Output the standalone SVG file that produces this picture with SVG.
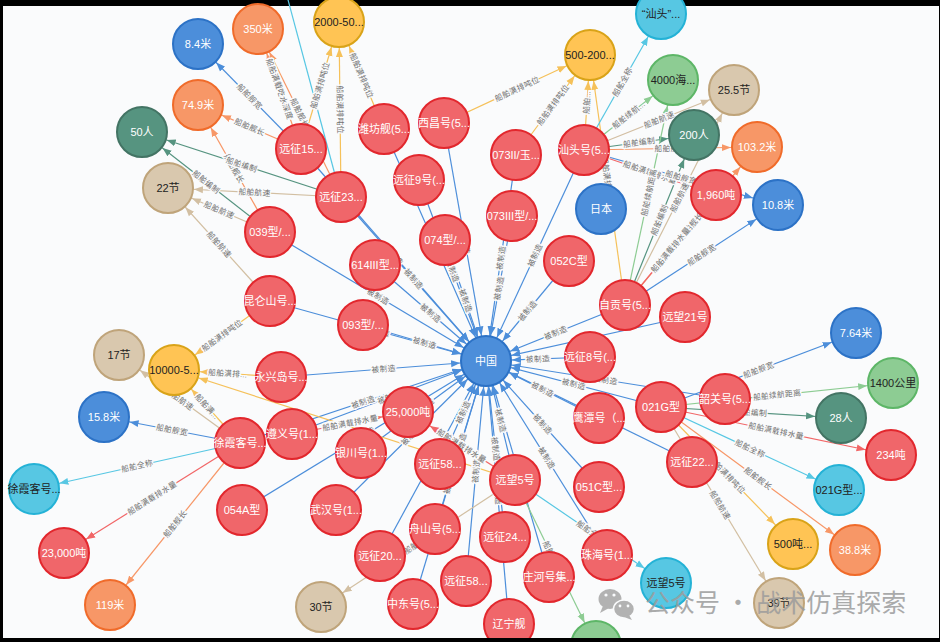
<svg xmlns="http://www.w3.org/2000/svg" width="940" height="642" viewBox="0 0 940 642">
<style>
.e{fill:none;stroke-width:1.2}
.cb{stroke:#4C8EDA}.co{stroke:#F79767}.cy{stroke:#F5C15A}.cg{stroke:#569480}.ct{stroke:#D2BFA2}.cc{stroke:#57C7E3}.cl{stroke:#8DCC93}.cr{stroke:#F16667}
.l{font-family:"Liberation Sans","Noto Sans CJK SC",sans-serif;font-size:8px;fill:#707070;stroke:#fafbfc;stroke-width:2.5;paint-order:stroke;text-anchor:middle}
.n circle{stroke-width:2}
.n text{font-family:"Liberation Sans","Noto Sans CJK SC",sans-serif;font-size:11px;text-anchor:middle;dominant-baseline:central;fill:#fff}
.r circle{fill:#F0666A;stroke:#E2272D}
.b circle{fill:#4C8EDA;stroke:#2C72C6}
.o circle{fill:#F79767;stroke:#F06B2A}
.y circle{fill:#FFC454;stroke:#D9A318}
.g circle{fill:#569480;stroke:#437464}
.t circle{fill:#D9C8AE;stroke:#BFA47A}
.c circle{fill:#57C7E3;stroke:#24B2D6}
.lg circle{fill:#8DCC93;stroke:#5DB667}
.y text,.t text,.c text,.lg text{fill:#222}
</style>
<defs>
<marker id="mb" markerUnits="userSpaceOnUse" markerWidth="40" markerHeight="12" refX="35" refY="6" orient="auto-start-reverse"><path d="M0,2.5 L9,6 L0,9.5 z" fill="#4C8EDA"/></marker>
<marker id="mo" markerUnits="userSpaceOnUse" markerWidth="40" markerHeight="12" refX="35" refY="6" orient="auto-start-reverse"><path d="M0,2.5 L9,6 L0,9.5 z" fill="#F79767"/></marker>
<marker id="my" markerUnits="userSpaceOnUse" markerWidth="40" markerHeight="12" refX="35" refY="6" orient="auto-start-reverse"><path d="M0,2.5 L9,6 L0,9.5 z" fill="#F5C15A"/></marker>
<marker id="mg" markerUnits="userSpaceOnUse" markerWidth="40" markerHeight="12" refX="35" refY="6" orient="auto-start-reverse"><path d="M0,2.5 L9,6 L0,9.5 z" fill="#569480"/></marker>
<marker id="mt" markerUnits="userSpaceOnUse" markerWidth="40" markerHeight="12" refX="35" refY="6" orient="auto-start-reverse"><path d="M0,2.5 L9,6 L0,9.5 z" fill="#D2BFA2"/></marker>
<marker id="mc" markerUnits="userSpaceOnUse" markerWidth="40" markerHeight="12" refX="35" refY="6" orient="auto-start-reverse"><path d="M0,2.5 L9,6 L0,9.5 z" fill="#57C7E3"/></marker>
<marker id="ml" markerUnits="userSpaceOnUse" markerWidth="40" markerHeight="12" refX="35" refY="6" orient="auto-start-reverse"><path d="M0,2.5 L9,6 L0,9.5 z" fill="#8DCC93"/></marker>
<marker id="mr" markerUnits="userSpaceOnUse" markerWidth="40" markerHeight="12" refX="35" refY="6" orient="auto-start-reverse"><path d="M0,2.5 L9,6 L0,9.5 z" fill="#F16667"/></marker>
</defs>
<rect x="0" y="0" width="940" height="642" fill="#000"/>
<rect x="3" y="6" width="936" height="634" fill="#fafbfc"/>
<g id="connectors">
<path id="c1" class="e cb" d="M301,149 L486,361" marker-end="url(#mb)"/>
<path id="c2" class="e cb" d="M341,197 L486,361" marker-end="url(#mb)"/>
<path id="c3" class="e cb" d="M384,129 L486,361" marker-end="url(#mb)"/>
<path id="c4" class="e cb" d="M444,123 L486,361" marker-end="url(#mb)"/>
<path id="c5" class="e cb" d="M419,180 L486,361" marker-end="url(#mb)"/>
<path id="c6" class="e cb" d="M270,232 L486,361" marker-end="url(#mb)"/>
<path id="c7" class="e cb" d="M375,265 L486,361" marker-end="url(#mb)"/>
<path id="c8" class="e cb" d="M445,240 L486,361" marker-end="url(#mb)"/>
<path id="c9" class="e cb" d="M270,301 L486,361" marker-end="url(#mb)"/>
<path id="c10" class="e cb" d="M363,325 L486,361" marker-end="url(#mb)"/>
<path id="c11" class="e cb" d="M281,377 L486,361" marker-end="url(#mb)"/>
<path id="c12" class="e cb" d="M240,443 L486,361" marker-end="url(#mb)"/>
<path id="c13" class="e cb" d="M292,434 L486,361" marker-end="url(#mb)"/>
<path id="c14" class="e cb" d="M361,453 L486,361" marker-end="url(#mb)"/>
<path id="c15" class="e cb" d="M440,464 L486,361" marker-end="url(#mb)"/>
<path id="c16" class="e cb" d="M336,510 L486,361" marker-end="url(#mb)"/>
<path id="c17" class="e cb" d="M435,529 L486,361" marker-end="url(#mb)"/>
<path id="c18" class="e cb" d="M380,556 L486,361" marker-end="url(#mb)"/>
<path id="c19" class="e cb" d="M413,604 L486,361" marker-end="url(#mb)"/>
<path id="c20" class="e cb" d="M466,581 L486,361" marker-end="url(#mb)"/>
<path id="c21" class="e cb" d="M242,510 L486,361" marker-end="url(#mb)"/>
<path id="c22" class="e cb" d="M486,361 L584,150" marker-start="url(#mb)"/>
<path id="c23" class="e cb" d="M486,361 L516,155" marker-start="url(#mb)"/>
<path id="c24" class="e cb" d="M486,361 L512,216" marker-start="url(#mb)"/>
<path id="c25" class="e cb" d="M486,361 L569,261" marker-start="url(#mb)"/>
<path id="c26" class="e cb" d="M486,361 L625,305" marker-start="url(#mb)"/>
<path id="c27" class="e cb" d="M486,361 L685,317" marker-start="url(#mb)"/>
<path id="c28" class="e cb" d="M486,361 L590,357" marker-start="url(#mb)"/>
<path id="c29" class="e cb" d="M486,361 L661,407" marker-start="url(#mb)"/>
<path id="c30" class="e cb" d="M486,361 L599,418" marker-start="url(#mb)"/>
<path id="c31" class="e cb" d="M486,361 L725,399" marker-start="url(#mb)"/>
<path id="c32" class="e cb" d="M486,361 L515,480" marker-start="url(#mb)"/>
<path id="c33" class="e cb" d="M486,361 L599,487" marker-start="url(#mb)"/>
<path id="c34" class="e cb" d="M486,361 L505,537" marker-start="url(#mb)"/>
<path id="c35" class="e cb" d="M486,361 L549,577" marker-start="url(#mb)"/>
<path id="c36" class="e cb" d="M486,361 L607,555" marker-start="url(#mb)"/>
<path id="c37" class="e cb" d="M486,361 L509,624" marker-start="url(#mb)"/>
<path id="c38" class="e cb" d="M486,361 L692,462" marker-start="url(#mb)"/>

<path id="p1" class="e cb" d="M198,44 L301,149" marker-start="url(#mb)"/>
<path id="p3" class="e co" d="M258,29 L301,149" marker-start="url(#mo)"/>
<path id="p4" class="e co" d="M258,29 L341,197" marker-start="url(#mo)"/>
<path id="p5" class="e cy" d="M301,149 L339,22" marker-end="url(#my)"/>
<path id="p6" class="e cy" d="M339,22 L341,197" marker-start="url(#my)"/>
<path id="p7" class="e cy" d="M339,22 L384,129" marker-start="url(#my)"/>
<path id="p8" class="e co" d="M198,105 L301,149" marker-start="url(#mo)"/>
<path id="p9" class="e co" d="M198,105 L270,232" marker-start="url(#mo)"/>
<path id="p10" class="e cg" d="M142,132 L341,197" marker-start="url(#mg)"/>
<path id="p11" class="e cg" d="M142,132 L270,232" marker-start="url(#mg)"/>
<path id="p12" class="e ct" d="M168,188 L341,197" marker-start="url(#mt)"/>
<path id="p13" class="e ct" d="M168,188 L270,232" marker-start="url(#mt)"/>
<path id="p14" class="e ct" d="M168,188 L270,301" marker-start="url(#mt)"/>
<path id="p15" class="e cy" d="M174,370 L270,301" marker-start="url(#my)"/>
<path id="p16" class="e cy" d="M174,370 L281,377" marker-start="url(#my)"/>
<path id="p17" class="e cy" d="M174,370 L240,443" marker-start="url(#my)"/>
<path id="p18" class="e cy" d="M174,370 L515,480" marker-start="url(#my)"/>
<path id="p19" class="e ct" d="M119,355 L240,443" marker-start="url(#mt)"/>
<path id="p20" class="e cb" d="M104,417 L240,443" marker-start="url(#mb)"/>
<path id="p21" class="e cc" d="M34,489 L240,443" marker-start="url(#mc)"/>
<path id="p22" class="e cr" d="M64,553 L240,443" marker-start="url(#mr)"/>
<path id="p23" class="e co" d="M110,605 L240,443" marker-start="url(#mo)"/>
<path id="p24" class="e cr" d="M292,434 L408,412" marker-end="url(#mr)"/>
<path id="p25" class="e cr" d="M408,412 L515,480" marker-start="url(#mr)"/>
<path id="p26" class="e ct" d="M321,607 L515,480" marker-start="url(#mt)"/>
<path id="p27" class="e cc" d="M515,480 L666,583" marker-end="url(#mc)"/>
<path id="p28" class="e cl" d="M515,480 L596,646" marker-end="url(#ml)"/>
<path id="p29" class="e cy" d="M444,123 L590,55" marker-end="url(#my)"/>
<path id="p30" class="e cy" d="M516,155 L590,55" marker-end="url(#my)"/>
<path id="p31" class="e cy" d="M584,150 L590,55" marker-end="url(#my)"/>
<path id="p32" class="e cy" d="M590,55 L625,305" marker-start="url(#my)"/>
<path id="p33" class="e cc" d="M584,150 L661,14" marker-end="url(#mc)"/>
<path id="p34" class="e cl" d="M584,150 L673,80" marker-end="url(#ml)"/>
<path id="p35" class="e ct" d="M584,150 L734,90" marker-end="url(#mt)"/>
<path id="p36" class="e cg" d="M584,150 L694,135" marker-end="url(#mg)"/>
<path id="p37" class="e co" d="M584,150 L757,147" marker-end="url(#mo)"/>
<path id="p38" class="e cr" d="M584,150 L716,195" marker-end="url(#mr)"/>
<path id="p39" class="e cb" d="M584,150 L778,205" marker-end="url(#mb)"/>
<path id="p40" class="e cl" d="M625,305 L673,80" marker-end="url(#ml)"/>
<path id="p41" class="e ct" d="M625,305 L734,90" marker-end="url(#mt)"/>
<path id="p42" class="e cg" d="M625,305 L694,135" marker-end="url(#mg)"/>
<path id="p43" class="e co" d="M625,305 L757,147" marker-end="url(#mo)"/>
<path id="p44" class="e cr" d="M625,305 L716,195" marker-end="url(#mr)"/>
<path id="p45" class="e cb" d="M625,305 L778,205" marker-end="url(#mb)"/>
<path id="p46" class="e cb" d="M661,407 L856,333" marker-end="url(#mb)"/>
<path id="p47" class="e cl" d="M661,407 L893,383" marker-end="url(#ml)"/>
<path id="p48" class="e cg" d="M661,407 L841,418" marker-end="url(#mg)"/>
<path id="p49" class="e cr" d="M661,407 L891,455" marker-end="url(#mr)"/>
<path id="p50" class="e cc" d="M661,407 L839,490" marker-end="url(#mc)"/>
<path id="p51" class="e co" d="M661,407 L855,550" marker-end="url(#mo)"/>
<path id="p52" class="e cy" d="M661,407 L793,543" marker-end="url(#my)"/>
<path id="p53" class="e ct" d="M661,407 L779,603" marker-end="url(#mt)"/>
<path id="p54" class="e cc" d="M280,-30 L341,197"/>

<g id="edge-labels">
<text class="l" dy="2.8"><textPath href="#c1" startOffset="50%">被制造</textPath></text>
<text class="l" dy="2.8"><textPath href="#c2" startOffset="50%">被制造</textPath></text>
<text class="l" dy="2.8"><textPath href="#c3" startOffset="50%">被制造</textPath></text>
<text class="l" dy="2.8"><textPath href="#c4" startOffset="50%">被制造</textPath></text>
<text class="l" dy="2.8"><textPath href="#c5" startOffset="50%">被制造</textPath></text>
<text class="l" dy="2.8"><textPath href="#c6" startOffset="50%">被制造</textPath></text>
<text class="l" dy="2.8"><textPath href="#c7" startOffset="50%">被制造</textPath></text>
<text class="l" dy="2.8"><textPath href="#c8" startOffset="50%">被制造</textPath></text>
<text class="l" dy="2.8"><textPath href="#c9" startOffset="50%">被制造</textPath></text>
<text class="l" dy="2.8"><textPath href="#c10" startOffset="50%">被制造</textPath></text>
<text class="l" dy="2.8"><textPath href="#c11" startOffset="50%">被制造</textPath></text>
<text class="l" dy="2.8"><textPath href="#c12" startOffset="50%">被制造</textPath></text>
<text class="l" dy="2.8"><textPath href="#c13" startOffset="50%">被制造</textPath></text>
<text class="l" dy="2.8"><textPath href="#c14" startOffset="50%">被制造</textPath></text>
<text class="l" dy="2.8"><textPath href="#c15" startOffset="50%">被制造</textPath></text>
<text class="l" dy="2.8"><textPath href="#c16" startOffset="50%">被制造</textPath></text>
<text class="l" dy="2.8"><textPath href="#c17" startOffset="50%">被制造</textPath></text>
<text class="l" dy="2.8"><textPath href="#c18" startOffset="50%">被制造</textPath></text>
<text class="l" dy="2.8"><textPath href="#c19" startOffset="50%">被制造</textPath></text>
<text class="l" dy="2.8"><textPath href="#c20" startOffset="50%">被制造</textPath></text>
<text class="l" dy="2.8"><textPath href="#c21" startOffset="50%">被制造</textPath></text>
<text class="l" dy="2.8"><textPath href="#c22" startOffset="50%">被制造</textPath></text>
<text class="l" dy="2.8"><textPath href="#c23" startOffset="50%">被制造</textPath></text>
<text class="l" dy="2.8"><textPath href="#c24" startOffset="50%">被制造</textPath></text>
<text class="l" dy="2.8"><textPath href="#c25" startOffset="50%">被制造</textPath></text>
<text class="l" dy="2.8"><textPath href="#c26" startOffset="50%">被制造</textPath></text>
<text class="l" dy="2.8"><textPath href="#c27" startOffset="50%">被制造</textPath></text>
<text class="l" dy="2.8"><textPath href="#c28" startOffset="50%">被制造</textPath></text>
<text class="l" dy="2.8"><textPath href="#c29" startOffset="50%">被制造</textPath></text>
<text class="l" dy="2.8"><textPath href="#c30" startOffset="50%">被制造</textPath></text>
<text class="l" dy="2.8"><textPath href="#c31" startOffset="50%">被制造</textPath></text>
<text class="l" dy="2.8"><textPath href="#c32" startOffset="50%">被制造</textPath></text>
<text class="l" dy="2.8"><textPath href="#c33" startOffset="50%">被制造</textPath></text>
<text class="l" dy="2.8"><textPath href="#c34" startOffset="50%">被制造</textPath></text>
<text class="l" dy="2.8"><textPath href="#c35" startOffset="50%">被制造</textPath></text>
<text class="l" dy="2.8"><textPath href="#c36" startOffset="50%">被制造</textPath></text>
<text class="l" dy="2.8"><textPath href="#c37" startOffset="50%">被制造</textPath></text>
<text class="l" dy="2.8"><textPath href="#c38" startOffset="50%">被制造</textPath></text>

<text class="l" dy="2.8"><textPath href="#p1" startOffset="50%">船舶舰宽</textPath></text>
<text class="l" dy="2.8"><textPath href="#p3" startOffset="50%">船舶满载吃水深度</textPath></text>
<text class="l" dy="2.8"><textPath href="#p4" startOffset="50%">船舶舰长</textPath></text>
<text class="l" dy="2.8"><textPath href="#p5" startOffset="50%">船舶满排吨位</textPath></text>
<text class="l" dy="2.8"><textPath href="#p6" startOffset="50%">船舶满排吨位</textPath></text>
<text class="l" dy="2.8"><textPath href="#p7" startOffset="50%">船舶满排吨位</textPath></text>
<text class="l" dy="2.8"><textPath href="#p8" startOffset="50%">船舶舰长</textPath></text>
<text class="l" dy="2.8"><textPath href="#p9" startOffset="50%">船舶舰长</textPath></text>
<text class="l" dy="2.8"><textPath href="#p10" startOffset="50%">船舶编制</textPath></text>
<text class="l" dy="2.8"><textPath href="#p11" startOffset="50%">船舶编制</textPath></text>
<text class="l" dy="2.8"><textPath href="#p12" startOffset="50%">船舶航速</textPath></text>
<text class="l" dy="2.8"><textPath href="#p13" startOffset="50%">船舶航速</textPath></text>
<text class="l" dy="2.8"><textPath href="#p14" startOffset="50%">船舶航速</textPath></text>
<text class="l" dy="2.8"><textPath href="#p15" startOffset="50%">船舶满排吨位</textPath></text>
<text class="l" dy="2.8"><textPath href="#p16" startOffset="50%">船舶满排...</textPath></text>
<text class="l" dy="2.8"><textPath href="#p17" startOffset="50%">船舶满...</textPath></text>
<text class="l" dy="2.8"><textPath href="#p19" startOffset="50%">船舶航速</textPath></text>
<text class="l" dy="2.8"><textPath href="#p20" startOffset="50%">船舶舰宽</textPath></text>
<text class="l" dy="2.8"><textPath href="#p21" startOffset="50%">船舶全称</textPath></text>
<text class="l" dy="2.8"><textPath href="#p22" startOffset="50%">船舶满载排水量</textPath></text>
<text class="l" dy="2.8"><textPath href="#p23" startOffset="50%">船舶舰长</textPath></text>
<text class="l" dy="2.8"><textPath href="#p24" startOffset="50%">船舶满载排水量</textPath></text>
<text class="l" dy="2.8"><textPath href="#p25" startOffset="50%">船舶满载排水量</textPath></text>
<text class="l" dy="2.8"><textPath href="#p26" startOffset="50%">船舶航速</textPath></text>
<text class="l" dy="2.8"><textPath href="#p27" startOffset="50%">船舶全称</textPath></text>
<text class="l" dy="2.8"><textPath href="#p28" startOffset="50%">船舶续航距离</textPath></text>
<text class="l" dy="2.8"><textPath href="#p29" startOffset="50%">船舶满排吨位</textPath></text>
<text class="l" dy="2.8"><textPath href="#p30" startOffset="50%">船舶满排吨位</textPath></text>
<text class="l" dy="2.8"><textPath href="#p31" startOffset="50%">船舶...</textPath></text>
<text class="l" dy="2.8"><textPath href="#p32" startOffset="50%">船舶满排吨位</textPath></text>
<text class="l" dy="2.8"><textPath href="#p33" startOffset="50%">船舶全称</textPath></text>
<text class="l" dy="2.8"><textPath href="#p34" startOffset="50%">船舶续航...</textPath></text>
<text class="l" dy="2.8"><textPath href="#p35" startOffset="50%">船舶航速</textPath></text>
<text class="l" dy="2.8"><textPath href="#p36" startOffset="50%">船舶编制</textPath></text>
<text class="l" dy="2.8"><textPath href="#p37" startOffset="50%">船舶舰长</textPath></text>
<text class="l" dy="2.8"><textPath href="#p38" startOffset="50%">船舶满载排水量</textPath></text>
<text class="l" dy="2.8"><textPath href="#p39" startOffset="50%">船舶舰宽</textPath></text>
<text class="l" dy="2.8"><textPath href="#p40" startOffset="50%">船舶续航距离</textPath></text>
<text class="l" dy="2.8"><textPath href="#p41" startOffset="50%">船舶航速</textPath></text>
<text class="l" dy="2.8"><textPath href="#p42" startOffset="50%">船舶编制</textPath></text>
<text class="l" dy="2.8"><textPath href="#p43" startOffset="50%">船舶舰长</textPath></text>
<text class="l" dy="2.8"><textPath href="#p44" startOffset="50%">船舶满载排水量</textPath></text>
<text class="l" dy="2.8"><textPath href="#p45" startOffset="50%">船舶舰宽</textPath></text>
<text class="l" dy="2.8"><textPath href="#p46" startOffset="50%">船舶舰宽</textPath></text>
<text class="l" dy="2.8"><textPath href="#p47" startOffset="50%">船舶续航距离</textPath></text>
<text class="l" dy="2.8"><textPath href="#p48" startOffset="50%">船舶编制</textPath></text>
<text class="l" dy="2.8"><textPath href="#p49" startOffset="50%">船舶满载排水量</textPath></text>
<text class="l" dy="2.8"><textPath href="#p50" startOffset="50%">船舶全称</textPath></text>
<text class="l" dy="2.8"><textPath href="#p51" startOffset="50%">船舶舰长</textPath></text>
<text class="l" dy="2.8"><textPath href="#p52" startOffset="50%">船舶满排吨位</textPath></text>
<text class="l" dy="2.8"><textPath href="#p53" startOffset="50%">船舶航速</textPath></text>
</g>
</g>
<g id="nodes">
<g id="n-8-4m" class="n b"><circle cx="198" cy="44" r="25"/><text x="198" y="44">8.4米</text></g>
<g id="n-350m" class="n o"><circle cx="258" cy="29" r="25"/><text x="258" y="29">350米</text></g>
<g id="n-2000" class="n y"><circle cx="339" cy="22" r="25"/><text x="339" y="22">2000-50...</text></g>
<g id="n-74-9m" class="n o"><circle cx="198" cy="105" r="25"/><text x="198" y="105">74.9米</text></g>
<g id="n-50ren" class="n g"><circle cx="142" cy="132" r="25"/><text x="142" y="132">50人</text></g>
<g id="n-22jie" class="n t"><circle cx="168" cy="188" r="25"/><text x="168" y="188">22节</text></g>
<g id="n-yz15" class="n r"><circle cx="301" cy="149" r="25"/><text x="301" y="149">远征15...</text></g>
<g id="n-yz23" class="n r"><circle cx="341" cy="197" r="25"/><text x="341" y="197">远征23...</text></g>
<g id="n-wf" class="n r"><circle cx="384" cy="129" r="25"/><text x="384" y="129">潍坊舰(5...</text></g>
<g id="n-xc" class="n r"><circle cx="444" cy="123" r="25"/><text x="444" y="123">西昌号(5...</text></g>
<g id="n-yz9" class="n r"><circle cx="419" cy="180" r="25"/><text x="419" y="180">远征9号(...</text></g>
<g id="n-500-200" class="n y"><circle cx="590" cy="55" r="25"/><text x="590" y="55">500-200...</text></g>
<g id="n-st-full" class="n c"><circle cx="661" cy="14" r="25"/><text x="661" y="14">“汕头”...</text></g>
<g id="n-4000" class="n lg"><circle cx="673" cy="80" r="25"/><text x="673" y="80">4000海...</text></g>
<g id="n-st" class="n r"><circle cx="584" cy="150" r="25"/><text x="584" y="150">汕头号(5...</text></g>
<g id="n-073ii" class="n r"><circle cx="516" cy="155" r="25"/><text x="516" y="155">073II/玉...</text></g>
<g id="n-200ren" class="n g"><circle cx="694" cy="135" r="25"/><text x="694" y="135">200人</text></g>
<g id="n-jp" class="n b"><circle cx="601" cy="209" r="25"/><text x="601" y="209">日本</text></g>
<g id="n-25-5" class="n t"><circle cx="734" cy="90" r="25"/><text x="734" y="90">25.5节</text></g>
<g id="n-103-2" class="n o"><circle cx="757" cy="147" r="25"/><text x="757" y="147">103.2米</text></g>
<g id="n-1960" class="n r"><circle cx="716" cy="195" r="25"/><text x="716" y="195">1,960吨</text></g>
<g id="n-10-8" class="n b"><circle cx="778" cy="205" r="25"/><text x="778" y="205">10.8米</text></g>
<g id="n-039" class="n r"><circle cx="270" cy="232" r="25"/><text x="270" y="232">039型/...</text></g>
<g id="n-614" class="n r"><circle cx="375" cy="265" r="25"/><text x="375" y="265">614III型...</text></g>
<g id="n-074" class="n r"><circle cx="445" cy="240" r="25"/><text x="445" y="240">074型/...</text></g>
<g id="n-073iii" class="n r"><circle cx="512" cy="216" r="25"/><text x="512" y="216">073III型/...</text></g>
<g id="n-kl" class="n r"><circle cx="270" cy="301" r="25"/><text x="270" y="301">昆仑山号...</text></g>
<g id="n-093" class="n r"><circle cx="363" cy="325" r="25"/><text x="363" y="325">093型/...</text></g>
<g id="n-yx" class="n r"><circle cx="281" cy="377" r="25"/><text x="281" y="377">永兴岛号...</text></g>
<g id="n-25000" class="n r"><circle cx="408" cy="412" r="25"/><text x="408" y="412">25,000吨</text></g>
<g id="n-cn" class="n b"><circle cx="486" cy="361" r="25"/><text x="486" y="361">中国</text></g>
<g id="n-052c" class="n r"><circle cx="569" cy="261" r="25"/><text x="569" y="261">052C型</text></g>
<g id="n-zg" class="n r"><circle cx="625" cy="305" r="25"/><text x="625" y="305">自贡号(5...</text></g>
<g id="n-yw21" class="n r"><circle cx="685" cy="317" r="25"/><text x="685" y="317">远望21号</text></g>
<g id="n-yz8" class="n r"><circle cx="590" cy="357" r="25"/><text x="590" y="357">远征8号(...</text></g>
<g id="n-021g" class="n r"><circle cx="661" cy="407" r="25"/><text x="661" y="407">021G型</text></g>
<g id="n-yt" class="n r"><circle cx="599" cy="418" r="25"/><text x="599" y="418">鹰潭号（...</text></g>
<g id="n-sg" class="n r"><circle cx="725" cy="399" r="25"/><text x="725" y="399">韶关号(5...</text></g>
<g id="n-7-64" class="n b"><circle cx="856" cy="333" r="25"/><text x="856" y="333">7.64米</text></g>
<g id="n-1400" class="n lg"><circle cx="893" cy="383" r="25"/><text x="893" y="383">1400公里</text></g>
<g id="n-28ren" class="n g"><circle cx="841" cy="418" r="25"/><text x="841" y="418">28人</text></g>
<g id="n-234" class="n r"><circle cx="891" cy="455" r="25"/><text x="891" y="455">234吨</text></g>
<g id="n-021g-full" class="n c"><circle cx="839" cy="490" r="25"/><text x="839" y="490">021G型...</text></g>
<g id="n-yz22" class="n r"><circle cx="692" cy="462" r="25"/><text x="692" y="462">远征22...</text></g>
<g id="n-500t" class="n y"><circle cx="793" cy="544" r="25"/><text x="793" y="544">500吨...</text></g>
<g id="n-38-8" class="n o"><circle cx="855" cy="550" r="25"/><text x="855" y="550">38.8米</text></g>
<g id="n-39jie" class="n t"><circle cx="779" cy="603" r="25"/><text x="779" y="603">39节</text></g>
<g id="n-17jie" class="n t"><circle cx="119" cy="355" r="25"/><text x="119" y="355">17节</text></g>
<g id="n-10000" class="n y"><circle cx="174" cy="370" r="25"/><text x="174" y="370">10000-5...</text></g>
<g id="n-15-8" class="n b"><circle cx="104" cy="417" r="25"/><text x="104" y="417">15.8米</text></g>
<g id="n-xxk" class="n r"><circle cx="240" cy="443" r="25"/><text x="240" y="443">徐霞客号...</text></g>
<g id="n-zy" class="n r"><circle cx="292" cy="434" r="25"/><text x="292" y="434">遵义号(1...</text></g>
<g id="n-xxk-full" class="n c"><circle cx="34" cy="489" r="25"/><text x="34" y="489">徐霞客号...</text></g>
<g id="n-23000" class="n r"><circle cx="64" cy="553" r="25"/><text x="64" y="553">23,000吨</text></g>
<g id="n-119" class="n o"><circle cx="110" cy="605" r="25"/><text x="110" y="605">119米</text></g>
<g id="n-054a" class="n r"><circle cx="242" cy="510" r="25"/><text x="242" y="510">054A型</text></g>
<g id="n-yc" class="n r"><circle cx="361" cy="453" r="25"/><text x="361" y="453">银川号(1...</text></g>
<g id="n-yz58a" class="n r"><circle cx="440" cy="464" r="25"/><text x="440" y="464">远征58...</text></g>
<g id="n-wh" class="n r"><circle cx="336" cy="510" r="25"/><text x="336" y="510">武汉号(1...</text></g>
<g id="n-zs" class="n r"><circle cx="435" cy="529" r="25"/><text x="435" y="529">舟山号(5...</text></g>
<g id="n-yz20" class="n r"><circle cx="380" cy="556" r="25"/><text x="380" y="556">远征20...</text></g>
<g id="n-30jie" class="n t"><circle cx="321" cy="607" r="25"/><text x="321" y="607">30节</text></g>
<g id="n-zd" class="n r"><circle cx="413" cy="604" r="25"/><text x="413" y="604">中东号(5...</text></g>
<g id="n-yz58b" class="n r"><circle cx="466" cy="581" r="25"/><text x="466" y="581">远征58...</text></g>
<g id="n-yw5" class="n r"><circle cx="515" cy="480" r="25"/><text x="515" y="480">远望5号</text></g>
<g id="n-051c" class="n r"><circle cx="599" cy="487" r="25"/><text x="599" y="487">051C型...</text></g>
<g id="n-yz24" class="n r"><circle cx="505" cy="537" r="25"/><text x="505" y="537">远征24...</text></g>
<g id="n-zhh2" class="n r"><circle cx="549" cy="577" r="25"/><text x="549" y="577">庄河号集...</text></g>
<g id="n-zhh" class="n r"><circle cx="607" cy="555" r="25"/><text x="607" y="555">珠海号(1...</text></g>
<g id="n-yw5-full" class="n c"><circle cx="666" cy="583" r="25"/><text x="666" y="583">远望5号</text></g>
<g id="n-ln" class="n r"><circle cx="509" cy="624" r="25"/><text x="509" y="624">辽宁舰</text></g>
<g id="n-lg-bottom" class="n lg"><circle cx="596" cy="646" r="25"/></g>
</g>
<rect x="0" y="638" width="940" height="4" fill="#000"/>
<g id="watermark" opacity="0.85">
<ellipse cx="610" cy="599" rx="11.5" ry="10" fill="#a6a6a6"/>
<path d="M603,606 L600,613 L609,608 z" fill="#a6a6a6"/>
<ellipse cx="624" cy="609" rx="10.5" ry="9" fill="#a6a6a6" stroke="#fafbfc" stroke-width="1.5"/>
<path d="M629,615 L632,620 L624,617 z" fill="#a6a6a6"/>
<circle cx="606" cy="595" r="1.6" fill="#fafbfc"/><circle cx="614" cy="595" r="1.6" fill="#fafbfc"/>
<circle cx="620" cy="606" r="1.4" fill="#fafbfc"/><circle cx="628" cy="606" r="1.4" fill="#fafbfc"/>
<text x="645" y="612" font-family="Noto Sans CJK SC, sans-serif" font-size="25" fill="#9c9c9c">公众号 · 战术仿真探索</text>
</g>
</svg>
